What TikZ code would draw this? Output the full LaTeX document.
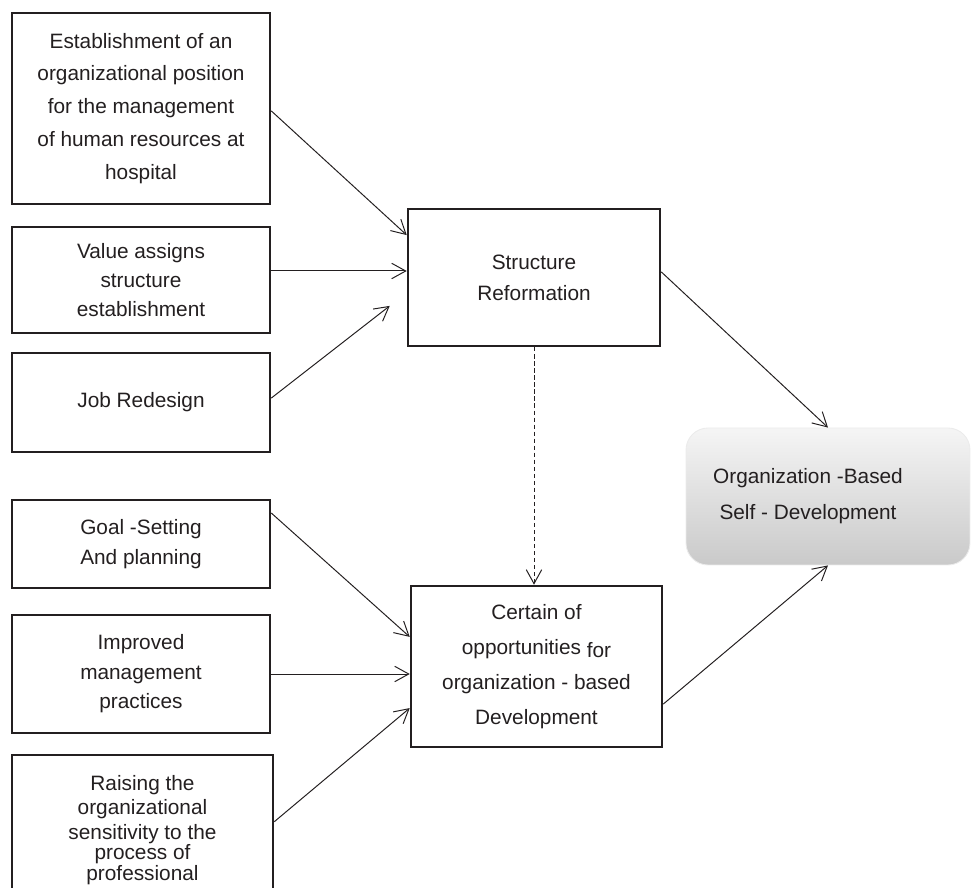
\documentclass[tikz,border=0pt]{standalone}
\usepackage{fontspec}
\setmainfont{Liberation Sans}
\usetikzlibrary{arrows.meta, positioning, calc}
\definecolor{boxdark}{RGB}{35,31,32}

\begin{document}
\begin{tikzpicture}[
    lbox/.style={draw=boxdark, line width=1.8pt,
        minimum width=6.45cm, text=boxdark, align=center,
        font=\fontsize{14.8}{20.9}\selectfont},
    mbox/.style={lbox, minimum width=6.3cm, minimum height=3.425cm},
    goalbox/.style={rounded corners=0.55cm,
        minimum width=7.1cm, minimum height=3.425cm,
        top color=black!4, middle color=black!15, bottom color=black!21,
        draw=black!8, line width=0.6pt,
        text=boxdark, align=center,
        font=\fontsize{14.8}{25.5}\selectfont},
    arrow/.style={-{Straight Barb[length=10pt, width=11pt]}, line width=0.7pt, boxdark},
    darrow/.style={arrow, dash pattern=on 3pt off 2pt}
]
\clip (0,0) rectangle (24.275,22.2);

% Inputs of structure reformation
\node[lbox, minimum height=4.775cm, font=\fontsize{14.8}{23.4}\selectfont] (pos) at (3.525,19.4875) {
    Establishment of an\\
    organizational position\\
    for the management\\
    of human resources at\\
    hospital
};
\node[lbox, minimum height=2.65cm] (val) at (3.525,15.2) {
    Value assigns\\
    structure\\
    establishment
};
\node[lbox, minimum height=2.475cm] (job) at (3.525,12.1375) {Job Redesign};

% Inputs of opportunities
\node[lbox, minimum height=2.2cm] (goal) at (3.525,8.6) {
    Goal -Setting\\
    And planning
};
\node[lbox, minimum height=2.95cm] (mgmt) at (3.525,5.35) {
    Improved\\
    management\\
    practices
};
\node[lbox, minimum width=6.525cm, minimum height=3.75cm,
      font=\fontsize{14.8}{17.5}\selectfont] (sens) at (3.5625,1.45) {
    Raising the\\
    organizational\\
    sensitivity to the\\[-3pt]
    process of\\[-3pt]
    professional
};

% Middle column
\node[mbox, font=\fontsize{14.8}{22}\selectfont] (struct) at (13.35,15.2625) {
    Structure\\
    Reformation
};
\node[mbox, minimum width=6.275cm, minimum height=4.025cm,
      font=\fontsize{14.8}{24.8}\selectfont] (opp) at (13.4125,5.5375) {
    Certain of\\
    opportunities \raisebox{-2.5pt}{for}\\
    organization - based\\
    Development
};

% Outcome
\node[goalbox] (self) at (20.7,9.7875) {
    Organization -Based\hspace*{1cm}\\
    Self - Development\hspace*{1cm}
};

\draw[arrow] ([yshift=-0.06cm]pos.east) -- ([yshift=1.06cm]struct.west);
\draw[arrow] ([yshift=0.225cm]val.east) -- ([yshift=0.225cm]val.east -| struct.west);
\draw[arrow] ([yshift=0.11cm]job.east) -- ([xshift=-0.425cm,yshift=-0.71cm]struct.west);
\draw[arrow] ([yshift=0.14cm]struct.east) -- (self.north);
\draw[darrow] (struct.south) -- (struct.south |- opp.north);
\draw[arrow] ([yshift=0.775cm]goal.east) -- ([yshift=0.74cm]opp.west);
\draw[arrow] (mgmt.east) -- (mgmt.east -| opp.west);
\draw[arrow] ([yshift=-1.7cm]sens.north east) -- ([yshift=-1.04cm]opp.west);
\draw[arrow] ([yshift=-0.94cm]opp.east) -- (self.south);

\end{tikzpicture}
\end{document}
